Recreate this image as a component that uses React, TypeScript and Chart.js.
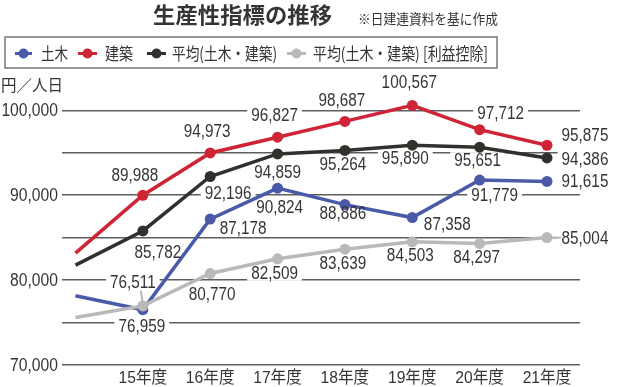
import React, { useEffect, useRef } from "react";
import { Chart, registerables } from "chart.js";

Chart.register(...registerables);

const categories = ["", "15年度", "16年度", "17年度", "18年度", "19年度", "20年度", "21年度"];
const doboku = [78150, 76511, 87178, 90824, 88886, 87358, 91779, 91615];
const kenchiku = [83176, 89988, 94973, 96827, 98687, 100567, 97712, 95875];
const heikin = [81765, 85782, 92196, 94859, 95264, 95890, 95651, 94386];
const heikinRieki = [75600, 76959, 80770, 82509, 83639, 84503, 84297, 85004];
const seriesNames = ["土木", "建築", "平均(土木・建築)", "平均(土木・建築) [利益控除]"];
const yTickValues = [70000, 80000, 90000, 100000];
const yGridValues = [70000, 75000, 80000, 85000, 90000, 95000, 100000];

const COLORS = ["#4a5aa8", "#cf2336", "#30312d", "#b9b9b9"];
const NUM_FONT = '"Liberation Sans", "Noto Sans CJK JP", sans-serif';
const JP_FONT = '"Noto Sans CJK JP", sans-serif';
const TEXT = "#353535";
const NUM_SX = 0.85;

// label offsets (px) relative to each point, per dataset, index 1..7
const labelOffsets = [
  [null, [-10, -28], [33, 9], [2, 19], [-2, 8], [35, 6], [15, 15], [38, 0]],
  [null, [-8, -20], [-3, -22], [-3, -22], [-3, -21], [-3, -23], [21, -17], [38, -10]],
  [null, [15, 21], [18, 17], [0, 18], [-2, 14], [-7, 13], [-2, 13], [38, 1]],
  [null, [-1, 20], [2, 20], [-3, 14], [-2, 14], [-2, 13], [-3, 13], [38, 0]],
];

function fitText(ctx, text, x, y, width) {
  const w = ctx.measureText(text).width;
  const sx = width / w;
  ctx.save();
  ctx.translate(x, y);
  ctx.scale(sx, 1);
  ctx.textAlign = "left";
  ctx.fillText(text, 0, 0);
  ctx.restore();
}

function condText(ctx, text, x, y, sx, align) {
  const w = ctx.measureText(text).width * sx;
  const left = align === "center" ? x - w / 2 : align === "right" ? x - w : x;
  ctx.save();
  ctx.translate(left, y);
  ctx.scale(sx, 1);
  ctx.textAlign = "left";
  ctx.fillText(text, 0, 0);
  ctx.restore();
  return w;
}

const fmt = (v: number) => v.toLocaleString("en-US");

const labelPlugin = {
  id: "labels",
  beforeDatasetsDraw(chart) {
    const ctx = chart.ctx;
    ctx.save();
    ctx.font = "18px " + NUM_FONT;
    chart.data.datasets.forEach((ds, di) => {
      const meta = chart.getDatasetMeta(di);
      ds.data.forEach((p, i) => {
        const off = labelOffsets[di][i];
        if (!off) return;
        const el = meta.data[i];
        const w = ctx.measureText(fmt(p.y)).width * NUM_SX;
        ctx.fillStyle = "#fff";
        ctx.fillRect(el.x + off[0] - w / 2 - 4, el.y + off[1] - 8, w + 8, 16);
      });
    });
    // leader lines
    const g = chart.getDatasetMeta(3).data;
    const b = chart.getDatasetMeta(0).data;
    ctx.strokeStyle = "#b9b9b9";
    ctx.lineWidth = 2;
    ctx.beginPath();
    ctx.moveTo(b[1].x - 2, b[1].y - 19);
    ctx.lineTo(b[1].x, b[1].y - 6);
    ctx.moveTo(g[7].x + 5, g[7].y);
    ctx.lineTo(g[7].x + 14, g[7].y);
    ctx.stroke();
    ctx.restore();
  },
  afterDatasetsDraw(chart) {
    const ctx = chart.ctx;
    ctx.save();
    ctx.font = "18px " + NUM_FONT;
    ctx.fillStyle = TEXT;
    ctx.textBaseline = "middle";
    chart.data.datasets.forEach((ds, di) => {
      const meta = chart.getDatasetMeta(di);
      ds.data.forEach((p, i) => {
        const off = labelOffsets[di][i];
        if (!off) return;
        const el = meta.data[i];
        condText(ctx, fmt(p.y), el.x + off[0], el.y + off[1] + 1, NUM_SX, "center");
      });
    });
    ctx.restore();
  },
  afterDraw(chart) {
    const ctx = chart.ctx;
    const { x: xs, y: ys } = chart.scales;
    ctx.save();
    ctx.textBaseline = "middle";
    ctx.fillStyle = TEXT;
    // y tick labels
    ctx.font = "18px " + NUM_FONT;
    yTickValues.forEach((v) => {
      condText(ctx, fmt(v), 58, ys.getPixelForValue(v) + 1, 0.87, "right");
    });
    // x tick labels
    ctx.font = "17px " + NUM_FONT;
    categories.forEach((c, i) => {
      if (!c) return;
      condText(ctx, c, xs.getPixelForValue(i), 378, 0.92, "center");
    });
    // title
    ctx.font = "bold 22px " + JP_FONT;
    fitText(ctx, "生産性指標の推移", 153, 15, 179);
    ctx.font = "14px " + JP_FONT;
    fitText(ctx, "※日建連資料を基に作成", 358, 19, 140);
    // legend box
    ctx.strokeStyle = "#777";
    ctx.lineWidth = 1.5;
    ctx.strokeRect(5, 37, 492, 31);
    const items = [
      { m: [15, 32], t: [41, 27] },
      { m: [78, 97], t: [105, 28] },
      { m: [147, 166], t: [172, 105] },
      { m: [287, 306], t: [313, 175] },
    ];
    const ly = 53.5;
    ctx.font = "17px " + JP_FONT;
    items.forEach((it, i) => {
      ctx.strokeStyle = COLORS[i];
      ctx.lineWidth = 3;
      ctx.beginPath();
      ctx.moveTo(it.m[0], ly);
      ctx.lineTo(it.m[1], ly);
      ctx.stroke();
      ctx.fillStyle = COLORS[i];
      ctx.beginPath();
      ctx.arc((it.m[0] + it.m[1]) / 2, ly, 5, 0, Math.PI * 2);
      ctx.fill();
      ctx.fillStyle = TEXT;
      fitText(ctx, seriesNames[i], it.t[0], ly, it.t[1]);
    });
    // unit
    ctx.font = "16px " + JP_FONT;
    ctx.fillStyle = TEXT;
    fitText(ctx, "円／人日", 1, 85, 62);
    ctx.restore();
  },
};

export default function App() {
  const ref = useRef<HTMLCanvasElement>(null);
  useEffect(() => {
    document.body.style.margin = "0";
    const allSeries = [doboku, kenchiku, heikin, heikinRieki];
    const orders = [1, 3, 2, 0];
    const chart = new Chart(ref.current, {
      type: "line",
      data: {
        datasets: allSeries.map((s, di) => ({
          label: seriesNames[di],
          data: s.map((v, i) => ({ x: i, y: v })),
          borderColor: COLORS[di],
          backgroundColor: COLORS[di],
          borderWidth: 3.5,
          pointRadius: s.map((_, i) => (i === 0 ? 0 : 5.5)),
          pointBorderWidth: 0,
          tension: 0,
          order: orders[di],
        })),
      },
      options: {
        responsive: false,
        animation: false,
        devicePixelRatio: 1,
        layout: { padding: { top: 89, right: 40, bottom: 0, left: 0 } },
        plugins: { legend: { display: false }, tooltip: { enabled: false }, title: { display: false } },
        scales: {
          x: {
            type: "linear",
            min: -0.2,
            max: 7.49,
            grid: { display: false, drawTicks: false },
            border: { display: false },
            ticks: { display: false },
            afterFit: (scale) => {
              scale.height = 22;
            },
          },
          y: {
            type: "linear",
            min: 70000,
            max: 102500,
            grid: {
              drawTicks: false,
              lineWidth: 1.4,
              color: "#5e5e5e",
            },
            border: { display: false },
            ticks: { display: false },
            afterBuildTicks: (scale) => {
              scale.ticks = yGridValues.map((v) => ({ value: v }));
            },
            afterFit: (scale) => {
              scale.width = 62;
            },
          },
        },
      },
      plugins: [labelPlugin],
    });
    return () => chart.destroy();
  }, []);
  return (
    <div style={{ width: 620, height: 387, background: "#fff" }}>
      <canvas ref={ref} width={620} height={387} style={{ width: 620, height: 387, display: "block" }} />
    </div>
  );
}
